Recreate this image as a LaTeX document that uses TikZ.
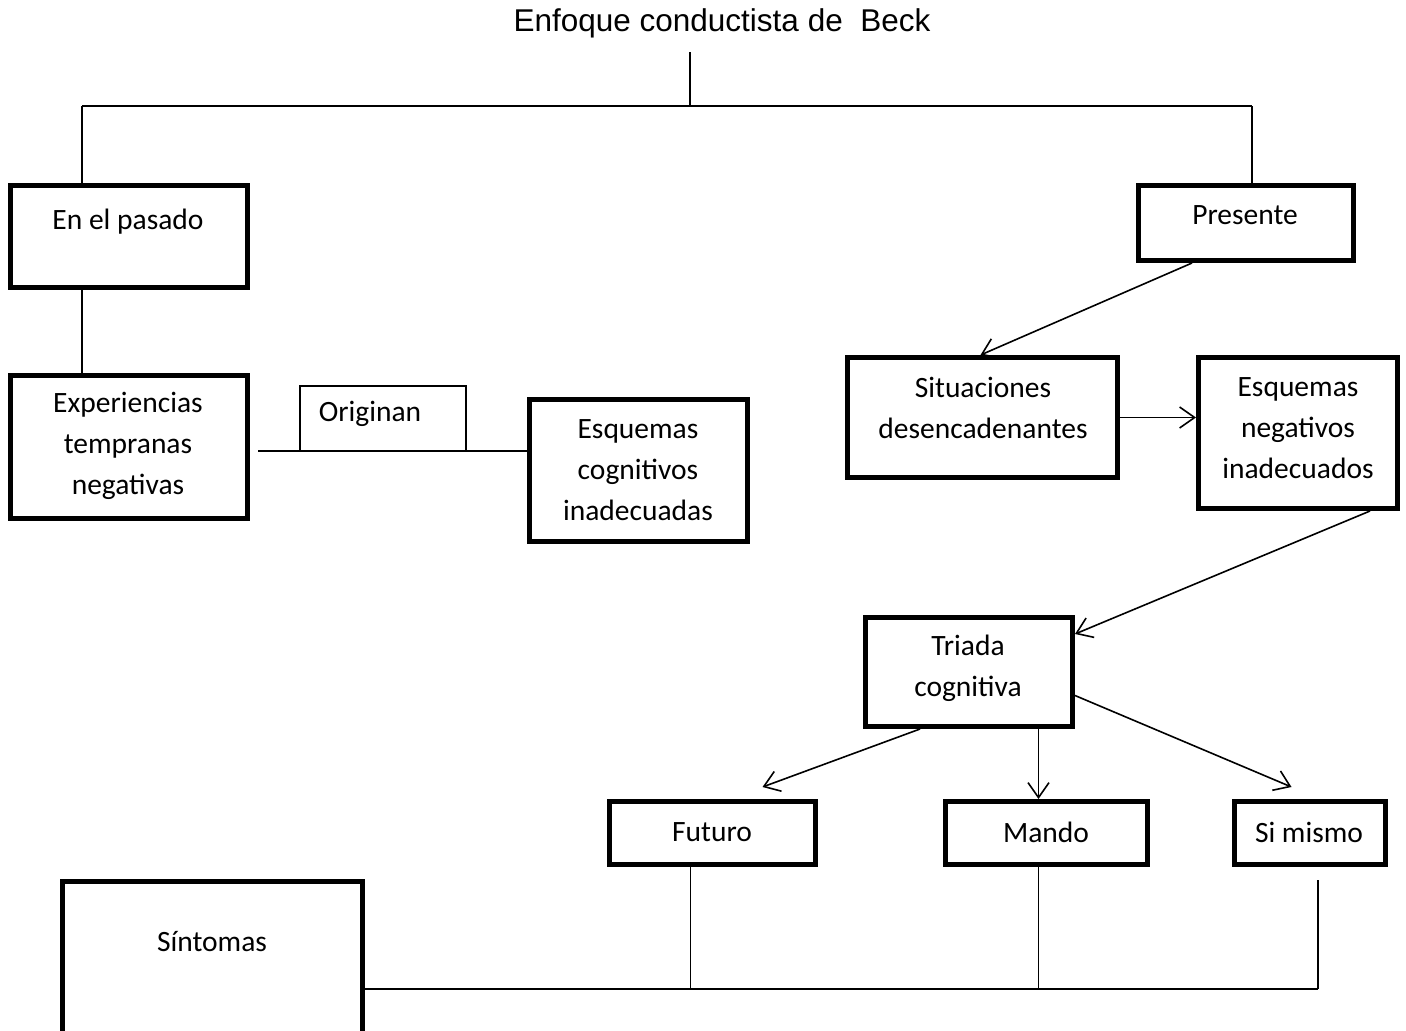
\documentclass[tikz,border=0pt]{standalone}
\usepackage{fontspec}
\setmainfont{Carlito}
\newfontfamily\arialf{Liberation Sans}
\usetikzlibrary{arrows.meta}
\begin{document}
\begin{tikzpicture}[x=1pt,y=-1pt,
  box/.style={draw, line width=5pt, inner sep=0pt, rectangle},
  thinbox/.style={draw, line width=1.4pt, inner sep=0pt, rectangle},
  txt/.style={align=center, font=\fontsize{29.5}{41}\selectfont, inner sep=0pt},
  conn/.style={line width=1.6pt},
  arr/.style={conn, -{Straight Barb[length=15pt,width=21pt]}}]
\clip (0,0) rectangle (1406,1031);
\fill[white] (0,0) rectangle (1406,1031);

% title
\node[font=\arialf\fontsize{31.5}{36}\selectfont, inner sep=0pt] (title) at (722,23) {Enfoque conductista de\ \ Beck};

% boxes
\node[box, minimum width=237pt, minimum height=102pt] (past) at (129,236.5) {};
\node[box, minimum width=237pt, minimum height=143pt] (exp) at (129,447) {};
\node[thinbox, minimum width=166pt, minimum height=65pt] (orig) at (383,418.5) {};
\node[box, minimum width=218pt, minimum height=142pt] (esqc) at (638.5,470.5) {};
\node[box, minimum width=215pt, minimum height=75pt] (pres) at (1246,223) {};
\node[box, minimum width=270pt, minimum height=120pt] (sit) at (982.5,417.5) {};
\node[box, minimum width=199pt, minimum height=151pt] (esqn) at (1298,433) {};
\node[box, minimum width=207pt, minimum height=109pt] (tri) at (969,672) {};
\node[box, minimum width=206pt, minimum height=63pt] (fut) at (712.5,833) {};
\node[box, minimum width=202pt, minimum height=63pt] (mando) at (1046.5,833) {};
\node[box, minimum width=151pt, minimum height=63pt] (si) at (1310,833) {};
\node[box, minimum width=300pt, minimum height=176pt] (sint) at (212.5,969.5) {};

% texts
\node[txt] (pastT) at (128,222) {En el pasado};
\node[txt] (expT) at (128,446) {Experiencias\\tempranas\\negativas};
\node[txt] (origT) at (370,414) {Originan};
\node[txt] (esqcT) at (638,470) {Esquemas\\cognitivos\\inadecuadas};
\node[txt] (presT) at (1245,215) {Presente};
\node[txt] (sitT) at (983,407.5) {Situaciones\\desencadenantes};
\node[txt] (esqnT) at (1298,428) {Esquemas\\negativos\\inadecuados};
\node[txt] (triT) at (968,668) {Triada\\cognitiva};
\node[txt] (futT) at (712,832) {Futuro};
\node[txt] (mandoT) at (1046,832) {Mando};
\node[txt] (siT) at (1309,832) {Si mismo};
\node[txt] (sintT) at (212,942) {Síntomas};

% top tree
\coordinate (j0) at (690,106);
\coordinate (jL) at (82,106);
\coordinate (jR) at (1252,106);
\coordinate (stemTop) at (690,52);
\draw[conn] (stemTop) -- (j0);
\draw[conn] (jL) -- (jR);
\draw[conn] (jL) -- (jL |- past.north);
\draw[conn] (jR) -- (jR |- pres.north);
\draw[conn] (past.south -| jL) -- (exp.north -| jL);

% originan line
\coordinate (o1) at (258,451);
\draw[conn] (o1) -- (esqc.west |- o1);

% arrows
\draw[arr] ([xshift=-54pt]pres.south) -- ([xshift=-2pt]sit.north);
\draw[arr] (sit.east) -- (sit.east -| esqn.west);
\draw[arr] ([xshift=72pt]esqn.south) -- ([yshift=38pt]tri.east);
\draw[arr] ([xshift=-49pt]tri.south) -- ([xshift=50pt,yshift=12pt]fut.north);
\draw[arr] ([xshift=69.5pt]tri.south) coordinate (tm) -- (tm |- mando.north);
\draw[arr] ([yshift=-23.5pt]tri.east) -- ([xshift=-18.5pt,yshift=12pt]si.north);

% bottom tree
\coordinate (bR) at (1318,989);
\coordinate (siTop) at (1318,880);
\draw[conn] (siTop) -- (bR);
\draw[conn] (bR) -- (bR -| sint.east);
\draw[conn] ([xshift=-22pt]fut.south) coordinate (fb) -- (fb |- bR);
\draw[conn] ([xshift=-8pt]mando.south) coordinate (mb) -- (mb |- bR);
\end{tikzpicture}
\end{document}
